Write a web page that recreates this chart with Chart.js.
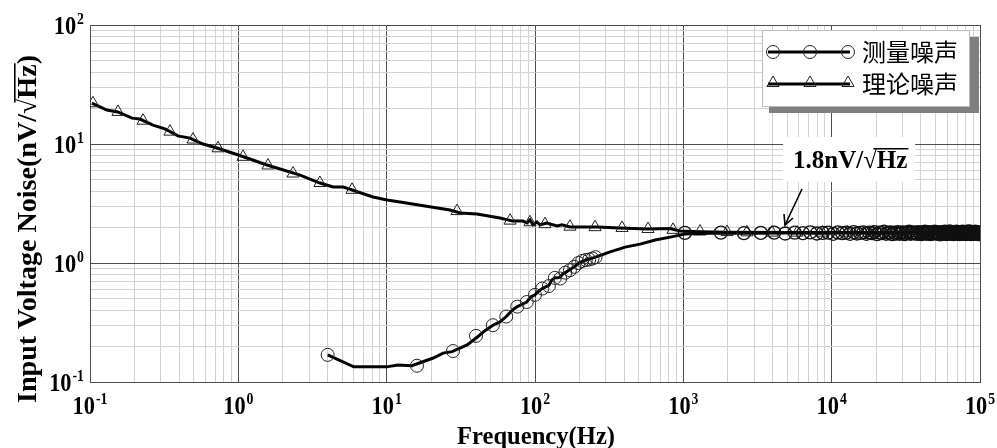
<!DOCTYPE html>
<html><head><meta charset="utf-8">
<script src="https://cdn.jsdelivr.net/npm/chart.js@4.4.1/dist/chart.umd.min.js"></script>
<style>html,body{margin:0;padding:0;background:#fff;}#wrap{width:997px;height:448px;}</style>
</head><body><div id="wrap"><canvas id="c" width="997" height="448"></canvas></div>
<script>
// ---------- data ----------
const xTickExp = [-1, 0, 1, 2, 3, 4, 5];
const yTickExp = [-1, 0, 1, 2];
const xTitle = 'Frequency(Hz)';
const yTitleParts = ['Input Voltage Noise(nV/', 'Hz', ')'];
const seriesNames = ['测量噪声', '理论噪声'];
const noteParts = ['1.8nV/', 'Hz'];

// measured noise: continuous curve
const measLineF = [4, 6, 10, 11.9, 14.8, 20.6, 24, 27.6, 34.9, 40.9, 46, 52, 58, 64, 70, 76, 82, 88, 94, 100, 106, 112, 118, 124, 130, 136, 142, 148, 154, 160, 172, 184, 196, 208, 220, 232, 244, 256, 321, 405, 511, 646, 815, 1024, 1500, 2000, 3000, 5000, 8000, 12000, 20000, 35000, 60000, 100000];
const measLineV = [0.169, 0.134, 0.134, 0.139, 0.137, 0.159, 0.175, 0.180, 0.205, 0.239, 0.27, 0.30, 0.32, 0.355, 0.40, 0.43, 0.45, 0.47, 0.52, 0.54, 0.58, 0.61, 0.63, 0.65, 0.72, 0.75, 0.75, 0.76, 0.81, 0.83, 0.88, 0.93, 0.99, 1.03, 1.06, 1.08, 1.10, 1.12, 1.24, 1.36, 1.44, 1.56, 1.65, 1.75, 1.78, 1.79, 1.78, 1.79, 1.78, 1.79, 1.78, 1.79, 1.78, 1.78];
// measured noise: marker points (low band)
const measLowF = [4, 16, 28, 40, 52, 64, 76, 88, 100, 112, 124, 136, 148, 160, 172, 184, 196, 208, 220, 232, 244, 256];
const measLowV = [0.169, 0.137, 0.182, 0.244, 0.30, 0.355, 0.43, 0.47, 0.54, 0.61, 0.64, 0.75, 0.74, 0.83, 0.87, 0.93, 1.00, 1.04, 1.06, 1.07, 1.09, 1.12];
// measured noise: marker points (high band)
const measHighF = [1024, 1792, 2560, 3328, 4096, 4864, 5632, 6400, 7168, 7936,
  8704, 9472, 10240, 11008, 11776, 12544, 13312, 14080, 14848, 15616,
  16384, 17152, 17920, 18688, 19456, 20224, 20992, 21760, 22528, 23296,
  24064, 24832, 25600, 26368, 27136, 27904, 28672, 29440, 30208, 30976,
  31744, 32512, 33280, 34048, 34816, 35584, 36352, 37120, 37888, 38656,
  39424, 40192, 40960, 41728, 42496, 43264, 44032, 44800, 45568, 46336,
  47104, 47872, 48640, 49408, 50176, 50944, 51712, 52480, 53248, 54016,
  54784, 55552, 56320, 57088, 57856, 58624, 59392, 60160, 60928, 61696,
  62464, 63232, 64000, 64768, 65536, 66304, 67072, 67840, 68608, 69376,
  70144, 70912, 71680, 72448, 73216, 73984, 74752, 75520, 76288, 77056,
  77824, 78592, 79360, 80128, 80896, 81664, 82432, 83200, 83968, 84736,
  85504, 86272, 87040, 87808, 88576, 89344, 90112, 90880, 91648, 92416,
  93184, 93952, 94720, 95488, 96256, 97024, 97792, 98560, 99328];
const measHighV = [1.79, 1.80, 1.78, 1.79, 1.80, 1.77, 1.80, 1.78, 1.81, 1.77,
  1.79, 1.80, 1.76, 1.81, 1.78, 1.80, 1.76, 1.82, 1.77, 1.79,
  1.81, 1.76, 1.80, 1.78, 1.82, 1.75, 1.80, 1.78, 1.83, 1.76,
  1.79, 1.81, 1.75, 1.80, 1.77, 1.82, 1.76, 1.79, 1.81, 1.75,
  1.80, 1.78, 1.83, 1.76, 1.79, 1.81, 1.77, 1.80, 1.76, 1.82,
  1.78, 1.75, 1.81, 1.79, 1.83, 1.76, 1.80, 1.78, 1.82, 1.75,
  1.79, 1.81, 1.77, 1.83, 1.78, 1.80, 1.76, 1.81, 1.79, 1.74,
  1.82, 1.77, 1.80, 1.76, 1.83, 1.78, 1.75, 1.81, 1.79, 1.77,
  1.84, 1.76, 1.80, 1.78, 1.82, 1.75, 1.79, 1.81, 1.77, 1.83,
  1.76, 1.80, 1.78, 1.82, 1.75, 1.81, 1.79, 1.77, 1.83, 1.76,
  1.80, 1.78, 1.82, 1.75, 1.79, 1.81, 1.77, 1.84, 1.76, 1.80,
  1.78, 1.83, 1.75, 1.80, 1.77, 1.82, 1.79, 1.76, 1.81, 1.78,
  1.83, 1.76, 1.80, 1.78, 1.82, 1.75, 1.79, 1.81, 1.78];

// theoretical noise: continuous curve
const theoLineF = [0.103, 0.130, 0.154, 0.192, 0.217, 0.266, 0.320, 0.392, 0.472, 0.578, 0.718, 1.0, 1.56, 2.61, 3.55, 4.35, 5.1, 8.09, 10.06, 12.3, 26.7, 31.3, 40.6, 58.1, 71.1, 83, 88.3, 92.5, 97, 103, 108, 120, 141, 152, 172, 262, 374, 569, 813, 950, 1296, 2000, 5000, 10000, 30000, 100000];
const theoLineV = [22.1, 19.3, 18.6, 16.5, 16.2, 14.4, 13.4, 11.7, 11.2, 10.0, 9.26, 8.08, 6.66, 5.48, 4.70, 4.35, 4.35, 3.59, 3.38, 3.25, 2.79, 2.63, 2.58, 2.39, 2.25, 2.25, 2.17, 2.30, 2.09, 2.21, 2.09, 2.17, 2.05, 2.09, 2.01, 2.01, 1.97, 1.93, 1.95, 1.86, 1.83, 1.81, 1.80, 1.80, 1.80, 1.80];
// theoretical noise: marker points
const theoMarkF = [0.1047, 0.1544, 0.2278, 0.346, 0.4948, 0.7295, 1.075, 1.585, 2.337, 3.55, 5.84, 29.8, 67.9, 92.5, 116.8, 172, 254, 386, 578, 852, 1296, 1970, 2687, 3960, 5850, 8640, 12800, 18900, 27900, 41200, 60900, 90000];
const theoMarkV = [22.0, 18.6, 15.7, 12.7, 10.9, 9.2, 7.8, 6.6, 5.65, 4.7, 4.12, 2.73, 2.27, 2.2, 2.12, 2.02, 2.0, 1.97, 1.93, 1.9, 1.84, 1.82, 1.81, 1.80, 1.80, 1.80, 1.80, 1.80, 1.80, 1.80, 1.80, 1.80];

// ---------- helpers ----------
const pts = (F, V) => F.map((f, i) => ({x: f, y: V[i]}));
function logTicks(e0, e1) {
  const t = [];
  for (let e = e0; e < e1; e++) for (let m = 1; m < 10; m++) t.push({value: m * Math.pow(10, e)});
  t.push({value: Math.pow(10, e1)});
  return t;
}
const isMajor = v => Math.abs(Math.log10(v) - Math.round(Math.log10(v))) < 1e-6;
const SERIF = '"Liberation Serif", "Times New Roman", serif';
const CJK = '"Noto Sans CJK SC", sans-serif';
const MARK = '#222';

function drawPow(ctx, exp, x, y, align) {
  const big = 'bold 26px ' + SERIF, small = 'bold 16px ' + SERIF, k = 0.86;
  ctx.font = big; const w1 = ctx.measureText('10').width * k;
  ctx.font = small; const w2 = ctx.measureText(String(exp)).width * k;
  const tw = w1 + 1 + w2;
  const sx = align === 'center' ? x - tw / 2 : x - tw;
  ctx.textAlign = 'left'; ctx.textBaseline = 'alphabetic';
  ctx.save(); ctx.translate(sx, y); ctx.scale(k, 1);
  ctx.font = big; ctx.fillText('10', 0, 0);
  ctx.font = small; ctx.fillText(String(exp), (w1 + 1) / k, -10);
  ctx.restore();
}
// text + sqrt + overlined part, starting at x (left) on baseline y
function drawSqrtText(ctx, pre, rad, post, x, y, font) {
  ctx.font = font; ctx.textAlign = 'left'; ctx.textBaseline = 'alphabetic';
  const wp = ctx.measureText(pre).width, ws = ctx.measureText('\u221A').width,
        wr = ctx.measureText(rad).width;
  const asc = ctx.measureText('\u221A').actualBoundingBoxAscent;
  ctx.fillText(pre, x, y);
  ctx.fillText('\u221A', x + wp, y);
  ctx.fillText(rad, x + wp + ws, y);
  ctx.lineWidth = 1.6; ctx.strokeStyle = '#000';
  ctx.beginPath(); ctx.moveTo(x + wp + ws * 0.75, y - asc + 0.8); ctx.lineTo(x + wp + ws + wr + 1, y - asc + 0.8); ctx.stroke();
  if (post) ctx.fillText(post, x + wp + ws + wr, y);
}
function sqrtTextWidth(ctx, pre, rad, post, font) {
  ctx.font = font;
  return ctx.measureText(pre + '\u221A' + rad + (post || '')).width;
}
function tri(ctx, x, y, r) {
  ctx.beginPath();
  ctx.moveTo(x, y - r);
  ctx.lineTo(x + r * 0.866, y + r * 0.5);
  ctx.lineTo(x - r * 0.866, y + r * 0.5);
  ctx.closePath(); ctx.stroke();
}
function circ(ctx, x, y, r) { ctx.beginPath(); ctx.arc(x, y, r, 0, Math.PI * 2); ctx.stroke(); }

const decor = {
  id: 'decor',
  afterDraw(chart) {
    const ctx = chart.ctx, xs = chart.scales.x, ys = chart.scales.y;
    ctx.save();
    ctx.fillStyle = '#000';
    // tick labels
    xTickExp.forEach(e => drawPow(ctx, e, xs.getPixelForValue(Math.pow(10, e)), 414, 'center'));
    yTickExp.forEach(e => drawPow(ctx, e, 84, ys.getPixelForValue(Math.pow(10, e)) + 9, 'right'));
    // x title
    ctx.font = 'bold 25px ' + SERIF; ctx.textAlign = 'center';
    const xw = ctx.measureText(xTitle).width;
    ctx.save(); ctx.translate(536, 444); ctx.scale(158 / xw, 1); ctx.fillText(xTitle, 0, 0); ctx.restore();
    // y title
    const yf = 'bold 27px ' + SERIF;
    const tw = sqrtTextWidth(ctx, yTitleParts[0], yTitleParts[1], yTitleParts[2], yf);
    ctx.save(); ctx.translate(27, 229); ctx.rotate(-Math.PI / 2); ctx.scale(348 / tw, 1);
    drawSqrtText(ctx, yTitleParts[0], yTitleParts[1], yTitleParts[2], -tw / 2, 9, yf);
    ctx.restore();
    // annotation
    ctx.fillStyle = '#fff'; ctx.fillRect(783, 137, 132, 45);
    ctx.fillStyle = '#000';
    drawSqrtText(ctx, noteParts[0], noteParts[1], '', 793, 168, 'bold 25px ' + SERIF);
    ctx.strokeStyle = '#000'; ctx.lineWidth = 1.6;
    ctx.beginPath(); ctx.moveTo(802, 189); ctx.lineTo(785, 225); ctx.stroke();
    ctx.beginPath(); ctx.moveTo(784, 214); ctx.lineTo(785, 225); ctx.lineTo(793, 218); ctx.stroke();
    // legend
    ctx.fillStyle = '#808080'; ctx.fillRect(769, 37, 210, 76);
    ctx.fillStyle = '#fff'; ctx.fillRect(762, 30, 208, 77);
    ctx.strokeStyle = '#bbb'; ctx.lineWidth = 1; ctx.strokeRect(762.5, 30.5, 207, 76);
    const rows = [52, 84];
    rows.forEach((ry, i) => {
      ctx.strokeStyle = '#000'; ctx.lineWidth = 3;
      ctx.beginPath(); ctx.moveTo(768, ry); ctx.lineTo(850, ry); ctx.stroke();
      ctx.strokeStyle = MARK; ctx.lineWidth = 1;
      [773, 810, 848].forEach(px => { if (i === 0) circ(ctx, px, ry, 6.5); else tri(ctx, px, ry - 1, 7); });
      ctx.fillStyle = '#000'; ctx.font = '24px ' + CJK; ctx.textAlign = 'left'; ctx.textBaseline = 'middle';
      ctx.fillText(seriesNames[i], 862, ry);
    });
    ctx.restore();
  }
};

const circleStyle = {showLine: false, pointStyle: 'circle', pointRadius: 6.5, borderColor: MARK, borderWidth: 1, backgroundColor: 'rgba(0,0,0,0)'};
new Chart(document.getElementById('c'), {
  type: 'scatter',
  data: {
    datasets: [
      Object.assign({label: seriesNames[0], data: pts(measHighF, measHighV)}, circleStyle, {borderColor: '#111', borderWidth: 1.3}),
      Object.assign({label: seriesNames[0], data: pts(measLowF, measLowV)}, circleStyle),
      {label: seriesNames[0], data: pts(measLineF, measLineV), showLine: true, pointRadius: 0, borderColor: '#000', borderWidth: 3},
      {label: seriesNames[1], data: pts(theoMarkF, theoMarkV), showLine: false, pointStyle: 'triangle', pointRadius: 7,
       borderColor: MARK, borderWidth: 1, backgroundColor: 'rgba(0,0,0,0)'},
      {label: seriesNames[1], data: pts(theoLineF, theoLineV), showLine: true, pointRadius: 0, borderColor: '#000', borderWidth: 3}
    ]
  },
  options: {
    responsive: false, animation: false, devicePixelRatio: 1,
    layout: {padding: {left: 90, right: 17, top: 25, bottom: 66}},
    plugins: {legend: {display: false}, tooltip: {enabled: false}},
    elements: {point: {hoverRadius: 0}},
    scales: {
      x: {type: 'logarithmic', min: 0.1, max: 1e5,
          afterBuildTicks: s => { s.ticks = logTicks(-1, 5); },
          afterFit: s => { s.height = 0; },
          ticks: {display: false},
          grid: {color: c => isMajor(c.tick.value) ? '#4d4d4d' : '#d2d2d2', lineWidth: 1, drawTicks: false},
          border: {display: true, color: '#4d4d4d'}},
      y: {type: 'logarithmic', min: 0.1, max: 100,
          afterBuildTicks: s => { s.ticks = logTicks(-1, 2); },
          afterFit: s => { s.width = 0; },
          ticks: {display: false},
          grid: {color: c => isMajor(c.tick.value) ? '#4d4d4d' : '#d2d2d2', lineWidth: 1, drawTicks: false},
          border: {display: true, color: '#4d4d4d'}}
    }
  },
  plugins: [decor]
});
</script></body></html>
